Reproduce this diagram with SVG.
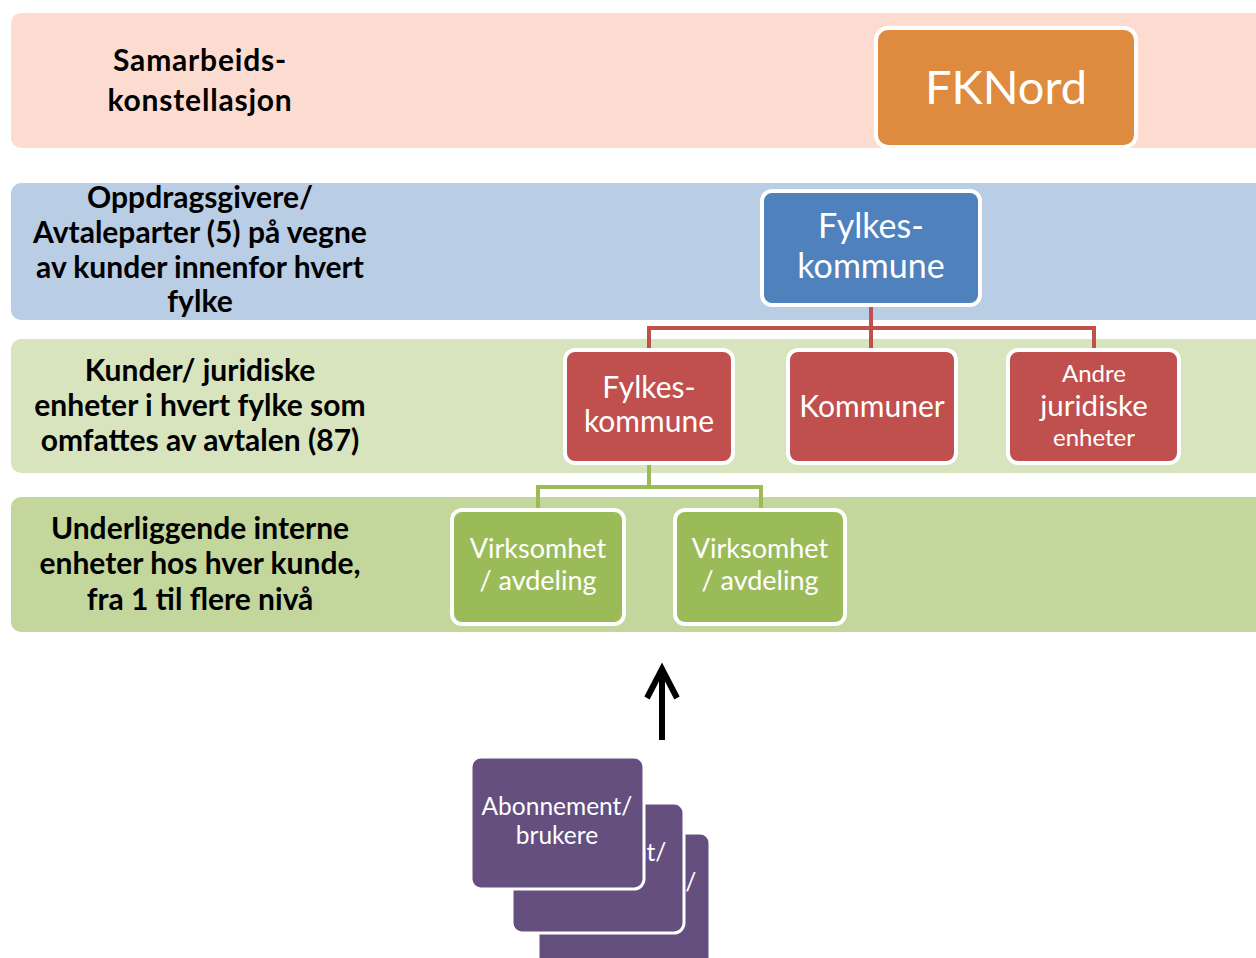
<svg xmlns="http://www.w3.org/2000/svg" width="1256" height="958" viewBox="0 0 1256 958">
<defs>
<style>
.lbl{font-family:Lato,"Open Sans","Liberation Sans",sans-serif;font-weight:bold;font-size:30px;fill:#000;text-anchor:middle}
.bt{font-family:Lato,"Open Sans","Liberation Sans",sans-serif;fill:#fff;text-anchor:middle}
.box{stroke:#fff;stroke-width:4}
.red{fill:#c0504d}
.grn{fill:#9bbb59}
.pur{fill:#644f7f;stroke:#fff;stroke-width:3}
.rc{fill:none;stroke:#c0504d;stroke-width:4}
.gc{fill:none;stroke:#9bbb59;stroke-width:4}
</style>
</defs>
<rect width="1256" height="958" fill="#fff"/>
<g id="bands">
<rect x="11" y="13" width="1270" height="135" rx="10" fill="#fcdcd0"/>
<rect x="11" y="183" width="1270" height="137" rx="10" fill="#b9cde5"/>
<rect x="11" y="339" width="1270" height="134" rx="10" fill="#d7e4bd"/>
<rect x="11" y="497" width="1270" height="135" rx="10" fill="#c3d69b"/>
</g>
<g id="labels">
<text class="lbl" font-size="40" letter-spacing="0.8" x="200" y="71">Samarbeids-</text>
<text class="lbl" font-size="40" letter-spacing="0.8" x="200" y="111">konstellasjon</text>
<text class="lbl" x="200" y="208">Oppdragsgivere/</text>
<text class="lbl" x="200" y="243">Avtaleparter (5) på vegne</text>
<text class="lbl" x="200" y="278">av kunder innenfor hvert</text>
<text class="lbl" x="200" y="312">fylke</text>
<text class="lbl" x="200" y="381">Kunder/ juridiske</text>
<text class="lbl" x="200" y="416">enheter i hvert fylke som</text>
<text class="lbl" x="200" y="451">omfattes av avtalen (87)</text>
<text class="lbl" x="200" y="539">Underliggende interne</text>
<text class="lbl" x="200" y="574">enheter hos hver kunde,</text>
<text class="lbl" x="200" y="610">fra 1 til flere nivå</text>
</g>
<g id="connectors">
<path class="rc" d="M871 307V349M649 349V328H1094V349"/>
<path class="gc" d="M649 465V487M538 510V487H761V510"/>
<path d="M662 740V670M647 698L662 669L677 698" fill="none" stroke="#000" stroke-width="6"/>
</g>
<g id="fknord">
<rect class="box" x="876" y="28" width="260" height="119" rx="12" fill="#de8a3f"/>
<text class="bt" x="1006" y="104" font-size="47">FKNord</text>
</g>
<g id="fylkeskommune-top">
<rect class="box" x="762" y="191" width="218" height="114" rx="10" fill="#4f81bd"/>
<text class="bt" x="871" y="238" font-size="34">Fylkes-</text>
<text class="bt" x="871" y="278" font-size="34">kommune</text>
</g>
<g id="fylkeskommune">
<rect class="box red" x="565" y="350" width="168" height="113" rx="10"/>
<text class="bt" x="649" y="398" font-size="30">Fylkes-</text>
<text class="bt" x="649" y="432" font-size="30">kommune</text>
</g>
<g id="kommuner">
<rect class="box red" x="788" y="350" width="168" height="113" rx="10"/>
<text class="bt" x="872" y="417" font-size="30">Kommuner</text>
</g>
<g id="andre">
<rect class="box red" x="1008" y="350" width="171" height="113" rx="10"/>
<text class="bt" x="1094" y="382" font-size="24">Andre</text>
<text class="bt" x="1094" y="416" font-size="29.5">juridiske</text>
<text class="bt" x="1094" y="446" font-size="24">enheter</text>
</g>
<g id="virksomhet1">
<rect class="box grn" x="452" y="510" width="172" height="114" rx="10"/>
<text class="bt" x="538" y="558" font-size="27">Virksomhet</text>
<text class="bt" x="538" y="590" font-size="27">/ avdeling</text>
</g>
<g id="virksomhet2">
<rect class="box grn" x="675" y="510" width="170" height="114" rx="10"/>
<text class="bt" x="760" y="558" font-size="27">Virksomhet</text>
<text class="bt" x="760" y="590" font-size="27">/ avdeling</text>
</g>
<g id="abonnement3">
<rect class="pur" x="538" y="833" width="172" height="140" rx="10"/>
<text class="bt" x="621" y="891" font-size="24.5">Abonnement/</text>
</g>
<g id="abonnement2">
<rect class="pur" x="512" y="803" width="172" height="130" rx="10"/>
<text class="bt" x="591" y="861" font-size="24.5">Abonnement/</text>
</g>
<g id="abonnement1">
<rect class="pur" x="471" y="757" width="173" height="132" rx="10"/>
<text class="bt" x="557" y="815" font-size="24.5">Abonnement/</text>
<text class="bt" x="557" y="844" font-size="24.5">brukere</text>
</g>
</svg>
